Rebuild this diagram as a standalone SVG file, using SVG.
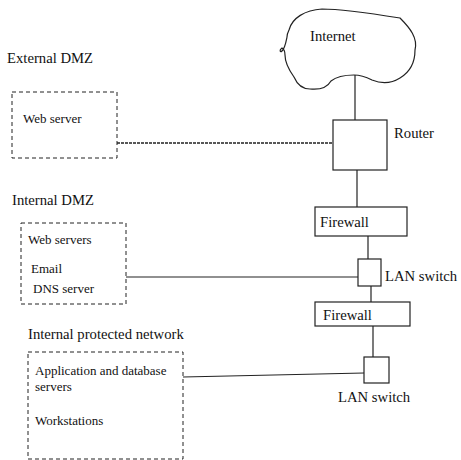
<svg xmlns="http://www.w3.org/2000/svg" width="461" height="460" viewBox="0 0 461 460" font-family="'Liberation Serif', 'Times New Roman', Times, 'DejaVu Serif', serif">
<style>
text{font-family:'Liberation Serif','Times New Roman',Times,'DejaVu Serif',serif;fill:#111}
.h{font-size:14.7px}
.s{font-size:13px}
.box{fill:#fff;stroke:#222;stroke-width:1.2}
.zone{fill:none;stroke:#222;stroke-width:1;stroke-dasharray:4 3}
.c{stroke:#222;stroke-width:1.2;fill:none}
.cd{stroke:#222;stroke-width:1.4;fill:none;stroke-dasharray:3 1}
</style>
<rect width="461" height="460" fill="#fff"/>
<g id="connectors">
<line class="c" x1="355" y1="75" x2="355" y2="120"/>
<line class="cd" x1="117" y1="143" x2="333" y2="143"/>
<line class="c" x1="357" y1="170" x2="357" y2="207"/>
<line class="c" x1="368" y1="236" x2="368" y2="259"/>
<line class="c" x1="126" y1="277" x2="358" y2="277"/>
<line class="c" x1="371" y1="286" x2="371" y2="302"/>
<line class="c" x1="373" y1="326" x2="373" y2="357"/>
<line class="c" x1="183" y1="377" x2="364" y2="373"/>
</g>
<g id="internet">
<path class="c" d="M289 30 C292 18 305 10 322 9 C340 9 375 14 400 18 C410 28 418 38 415 50 C415 62 410 72 400 78 C392 83 382 84 372 80 C366 77 360 75 354 75 C345 75 336 77 331 81 C327 88 320 90 310 89 C302 89 297 84 294 77 C289 70 285 63 285 55 C285 52 284 49 282 48 C279 50 280 53 282 51 C285 48 286 42 287 37 C287 34 288 32 289 30 Z"/>
<text class="h" x="310" y="41">Internet</text>
</g>
<g id="external-dmz">
<text class="h" x="7" y="63">External DMZ</text>
<rect class="zone" x="12" y="92" width="105" height="66"/>
<text class="s" x="23" y="123">Web server</text>
</g>
<g id="router">
<rect class="box" x="333" y="120" width="54" height="50"/>
<text class="h" x="394" y="138">Router</text>
</g>
<g id="firewall1">
<rect class="box" x="315" y="207" width="92" height="29"/>
<text class="h" x="320" y="227">Firewall</text>
</g>
<g id="internal-dmz">
<text class="h" x="12" y="205">Internal DMZ</text>
<rect class="zone" x="21" y="223" width="105" height="81"/>
<text class="s" x="28" y="244">Web servers</text>
<text class="s" x="31" y="273">Email</text>
<text class="s" x="33" y="293">DNS server</text>
</g>
<g id="lan-switch1">
<rect class="box" x="358" y="259" width="23" height="27"/>
<text class="h" x="385" y="281">LAN switch</text>
</g>
<g id="firewall2">
<rect class="box" x="315" y="302" width="95" height="24"/>
<text class="h" x="323" y="320">Firewall</text>
</g>
<g id="internal-protected">
<text class="h" x="28" y="339">Internal protected network</text>
<rect class="zone" x="28" y="352" width="155" height="107"/>
<text class="s" x="35" y="375">Application and database</text>
<text class="s" x="35" y="391">servers</text>
<text class="s" x="35" y="425">Workstations</text>
</g>
<g id="lan-switch2">
<rect class="box" x="364" y="357" width="25" height="26"/>
<text class="h" x="338" y="402">LAN switch</text>
</g>
</svg>
